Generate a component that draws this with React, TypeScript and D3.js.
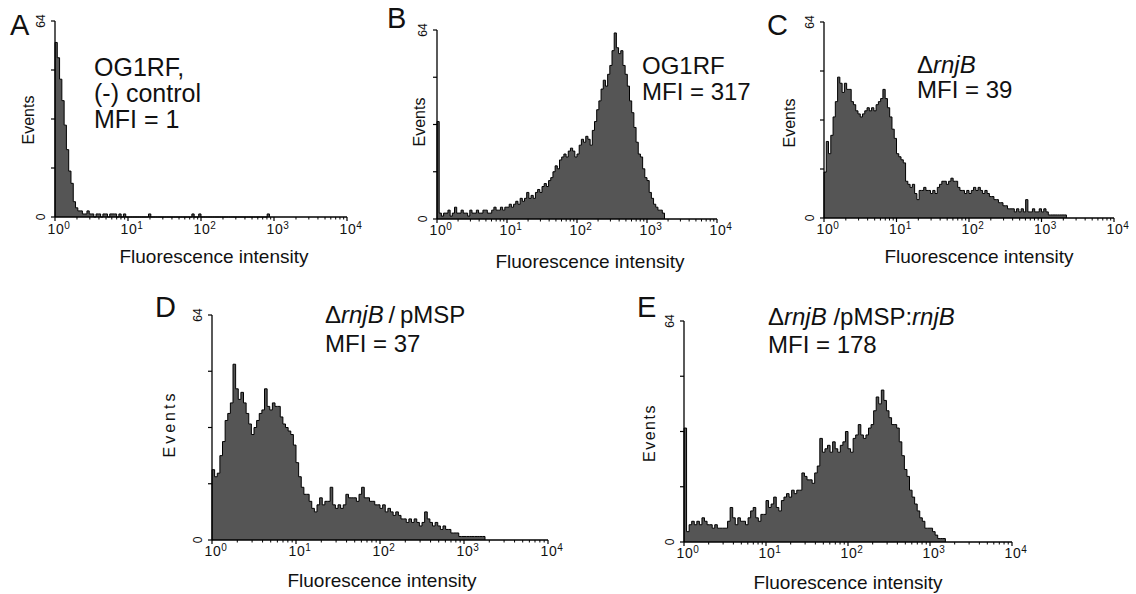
import React from "react";
import * as d3 from "d3";

// ---------------- data ----------------
const BINS_PER_DECADE = 32;
const decades = [0, 1, 2, 3, 4];
const minorMultipliers = [2, 3, 4, 5, 6, 7, 8, 9];
const yTickValues = [0, 16, 32, 48, 64];
const yLabelValues = [0, 64];
const yMax = 64;

const countsA = [
  57, 52, 45, 38, 30, 22, 15, 11, 5, 3, 2, 2, 1, 1, 2, 1,
  1, 0, 1, 1, 0, 1, 1, 0, 1, 1, 1, 0, 1, 0, 1, 0,
  0, 0, 0, 0, 0, 0, 0, 0, 0, 1, 0, 0, 0, 0, 0, 0,
  0, 0, 0, 0, 0, 0, 0, 0, 0, 0, 0, 0, 1, 0, 0, 1,
  0, 0, 0, 0, 0, 0, 0, 0, 0, 0, 0, 0, 0, 0, 0, 0,
  0, 0, 0, 0, 0, 0, 0, 0, 0, 0, 0, 0, 0, 1,
];

const countsB = [
  33, 2, 1, 2, 2, 3, 1, 2, 4, 2, 2, 3, 2, 2, 1, 3,
  2, 2, 3, 2, 2, 3, 3, 2, 2, 3, 4, 3, 3, 4, 3, 4,
  4, 5, 4, 5, 6, 5, 7, 6, 7, 9, 7, 8, 7, 9, 10, 9,
  11, 12, 11, 13, 14, 16, 18, 17, 20, 21, 22, 21, 23, 24, 23, 21,
  22, 25, 27, 26, 28, 27, 25, 30, 33, 37, 40, 44, 47, 45, 49, 52,
  57, 63, 58, 56, 57, 52, 49, 45, 40, 36, 31, 26, 22, 21, 17, 14,
  13, 9, 7, 5, 4, 3, 3, 2,
];

const countsC = [
  15, 25, 21, 27, 33, 38, 46, 44, 41, 44, 42, 42, 38, 37, 35, 34,
  33, 34, 35, 36, 35, 36, 35, 37, 38, 39, 42, 39, 36, 33, 29, 26,
  21, 20, 19, 18, 12, 11, 10, 11, 8, 6, 9, 9, 10, 9, 9, 8,
  9, 8, 10, 11, 12, 12, 11, 12, 13, 12, 12, 10, 9, 9, 8, 9,
  8, 9, 10, 9, 10, 9, 8, 9, 8, 7, 7, 6, 6, 5, 5, 4,
  4, 3, 3, 3, 2, 3, 2, 3, 2, 6, 2, 2, 3, 2, 2, 3,
  2, 3, 2, 1, 1, 1, 1, 1, 1, 1, 1,
];

const countsD = [
  20, 18, 19, 24, 28, 34, 36, 39, 50, 43, 40, 42, 39, 36, 33, 30,
  32, 34, 36, 37, 43, 38, 37, 39, 38, 38, 35, 33, 32, 31, 30, 27,
  22, 18, 15, 13, 13, 11, 9, 8, 10, 12, 10, 11, 11, 15, 10, 9,
  10, 9, 10, 13, 12, 12, 12, 11, 13, 15, 12, 12, 11, 11, 10, 10,
  9, 10, 8, 9, 8, 7, 8, 7, 6, 6, 5, 6, 5, 6, 5, 4,
  5, 8, 6, 5, 4, 5, 4, 3, 4, 3, 3, 2, 2, 2, 1, 1,
  1, 1, 1, 1, 1, 1, 1, 1,
];

const countsE = [
  33, 3, 5, 6, 5, 6, 5, 7, 6, 5, 5, 4, 5, 4, 4, 4,
  4, 6, 10, 7, 5, 7, 6, 6, 5, 7, 9, 10, 7, 6, 8, 8,
  12, 10, 11, 13, 10, 9, 12, 13, 14, 13, 15, 14, 15, 15, 20, 19,
  18, 18, 17, 20, 22, 30, 26, 27, 28, 26, 29, 27, 26, 28, 29, 32,
  27, 26, 30, 31, 34, 31, 30, 31, 33, 34, 38, 42, 40, 44, 41, 38,
  36, 34, 34, 33, 29, 25, 21, 19, 15, 13, 11, 9, 7, 6, 4, 4,
  4, 3, 2, 1, 1, 1,
];

const panelLetters = ["A", "B", "C", "D", "E"];
const xAxisTitle = "Fluorescence intensity";
const yAxisTitle = "Events";

type Seg = { t: string; i?: boolean };
const annotationsA: Seg[][] = [[{ t: "OG1RF," }], [{ t: "(-) control" }], [{ t: "MFI = 1" }]];
const annotationsB: Seg[][] = [[{ t: "OG1RF" }], [{ t: "MFI = 317" }]];
const annotationsC: Seg[][] = [[{ t: "\u0394" }, { t: "rnjB", i: true }], [{ t: "MFI = 39" }]];
const annotationsD: Seg[][] = [[{ t: "\u0394" }, { t: "rnjB", i: true }, { t: "\u2009/\u2009pMSP" }], [{ t: "MFI = 37" }]];
const annotationsE: Seg[][] = [
  [{ t: "\u0394" }, { t: "rnjB", i: true }, { t: " /pMSP:" }, { t: "rnjB", i: true }],
  [{ t: "MFI = 178" }],
];

// ---------------- layout ----------------
const FONT = "'Liberation Sans', Arial, Helvetica, sans-serif";

type Layout = {
  x0: number; x1: number; yT: number; yB: number;
  letter: [number, number];
  text: [number, number]; lh: number; fs: number;
  ev: [number, number]; evLs: number;
  xlab: [number, number];
  tickBase: number;
};

const layouts: Layout[] = [
  { x0: 55, x1: 347, yT: 21, yB: 217, letter: [10, 35], text: [94, 76], lh: 26, fs: 25, ev: [34, 120], evLs: 0, xlab: [214, 263], tickBase: 234 },
  { x0: 437, x1: 717, yT: 30, yB: 219, letter: [387, 28], text: [642, 74], lh: 26, fs: 24, ev: [425, 122], evLs: 0, xlab: [590, 268], tickBase: 235 },
  { x0: 824, x1: 1114, yT: 22, yB: 218, letter: [767, 35], text: [917, 73], lh: 25, fs: 24, ev: [795, 123], evLs: 0, xlab: [979, 263], tickBase: 234 },
  { x0: 212, x1: 548, yT: 315, yB: 540, letter: [155, 317], text: [325, 323], lh: 29, fs: 24, ev: [175, 424], evLs: 3, xlab: [382, 587], tickBase: 556 },
  { x0: 684, x1: 1012, yT: 321, yB: 542, letter: [637, 317], text: [768, 325], lh: 28, fs: 24, ev: [655, 433], evLs: 1.5, xlab: [848, 589], tickBase: 558 },
];

const panelCounts = [countsA, countsB, countsC, countsD, countsE];
const panelAnnotations = [annotationsA, annotationsB, annotationsC, annotationsD, annotationsE];

function Panel({ idx }: { idx: number }) {
  const L = layouts[idx];
  const counts = panelCounts[idx];
  const x = d3.scaleLog().domain([1, 1e4]).range([L.x0, L.x1]);
  const y = d3.scaleLinear().domain([0, yMax]).range([L.yB, L.yT]);

  const pts: [number, number][] = [[x(1), y(0)]];
  counts.forEach((v, i) => {
    const xa = x(Math.pow(10, i / BINS_PER_DECADE));
    const xb = x(Math.pow(10, (i + 1) / BINS_PER_DECADE));
    pts.push([xa, y(v)]);
    pts.push([xb, y(v)]);
  });
  const last = pts[pts.length - 1];
  pts.push([last[0], y(0)]);

  const area = d3.area<[number, number]>().x((p) => p[0]).y0(y(0)).y1((p) => p[1]);
  const line = d3.line<[number, number]>().x((p) => p[0]).y((p) => p[1]);

  const minors: number[] = [];
  decades.slice(0, -1).forEach((d) => minorMultipliers.forEach((m) => minors.push(m * Math.pow(10, d))));

  const ann = panelAnnotations[idx];

  return (
    <g>
      <path d={area(pts) || ""} fill="#555555" stroke="none" />
      <path d={line(pts) || ""} fill="none" stroke="#000" strokeWidth={1} strokeLinejoin="miter" />
      {/* x axis */}
      <line x1={L.x0} x2={L.x1} y1={L.yB} y2={L.yB} stroke="#000" strokeWidth={1.3} />
      {decades.map((d) => (
        <line key={"M" + d} x1={x(Math.pow(10, d))} x2={x(Math.pow(10, d))} y1={L.yB} y2={L.yB + 4} stroke="#000" strokeWidth={1.2} />
      ))}
      {minors.map((v, k) => (
        <line key={"m" + k} x1={x(v)} x2={x(v)} y1={L.yB} y2={L.yB + 2.5} stroke="#000" strokeWidth={1} />
      ))}
      {decades.map((d) => (
        <text key={"t" + d} x={x(Math.pow(10, d)) + 4} y={L.tickBase} textAnchor="middle" fontFamily={FONT} fontSize={14} letterSpacing={0.6} fill="#111">
          10
          <tspan fontSize={10} dy={-5}>{String(d)}</tspan>
        </text>
      ))}
      {/* y axis */}
      <line x1={L.x0} x2={L.x0} y1={L.yT} y2={L.yB} stroke="#000" strokeWidth={1.3} />
      {yTickValues.map((v) => (
        <line key={"y" + v} x1={L.x0 - 4} x2={L.x0} y1={y(v)} y2={y(v)} stroke="#000" strokeWidth={1.2} />
      ))}
      {yLabelValues.map((v) => (
        <text key={"yl" + v} x={L.x0 - 10} y={y(v)} transform={`rotate(-90, ${L.x0 - 10}, ${y(v)})`} textAnchor="middle" fontFamily={FONT} fontSize={12} fill="#111">
          {String(v)}
        </text>
      ))}
      <text x={L.ev[0]} y={L.ev[1]} transform={`rotate(-90, ${L.ev[0]}, ${L.ev[1]})`} textAnchor="middle" fontFamily={FONT} fontSize={16} letterSpacing={L.evLs} fill="#111">
        {yAxisTitle}
      </text>
      <text x={L.xlab[0]} y={L.xlab[1]} textAnchor="middle" fontFamily={FONT} fontSize={19} fill="#111">
        {xAxisTitle}
      </text>
      <text x={L.letter[0]} y={L.letter[1]} fontFamily={FONT} fontSize={29} fill="#111">
        {panelLetters[idx]}
      </text>
      {ann.map((lineSegs, li) => (
        <text key={"a" + li} x={L.text[0]} y={L.text[1] + li * L.lh} fontFamily={FONT} fontSize={L.fs} fill="#111">
          {lineSegs.map((s, si) => (
            <tspan key={si} fontStyle={s.i ? "italic" : "normal"}>{s.t}</tspan>
          ))}
        </text>
      ))}
    </g>
  );
}

export default function App() {
  return (
    <svg width={1136} height={594} style={{ position: "absolute", left: 0, top: 0, background: "#fff" }}>
      <rect x={0} y={0} width={1136} height={594} fill="#fff" />
      {panelLetters.map((_, i) => (
        <Panel key={i} idx={i} />
      ))}
    </svg>
  );
}
